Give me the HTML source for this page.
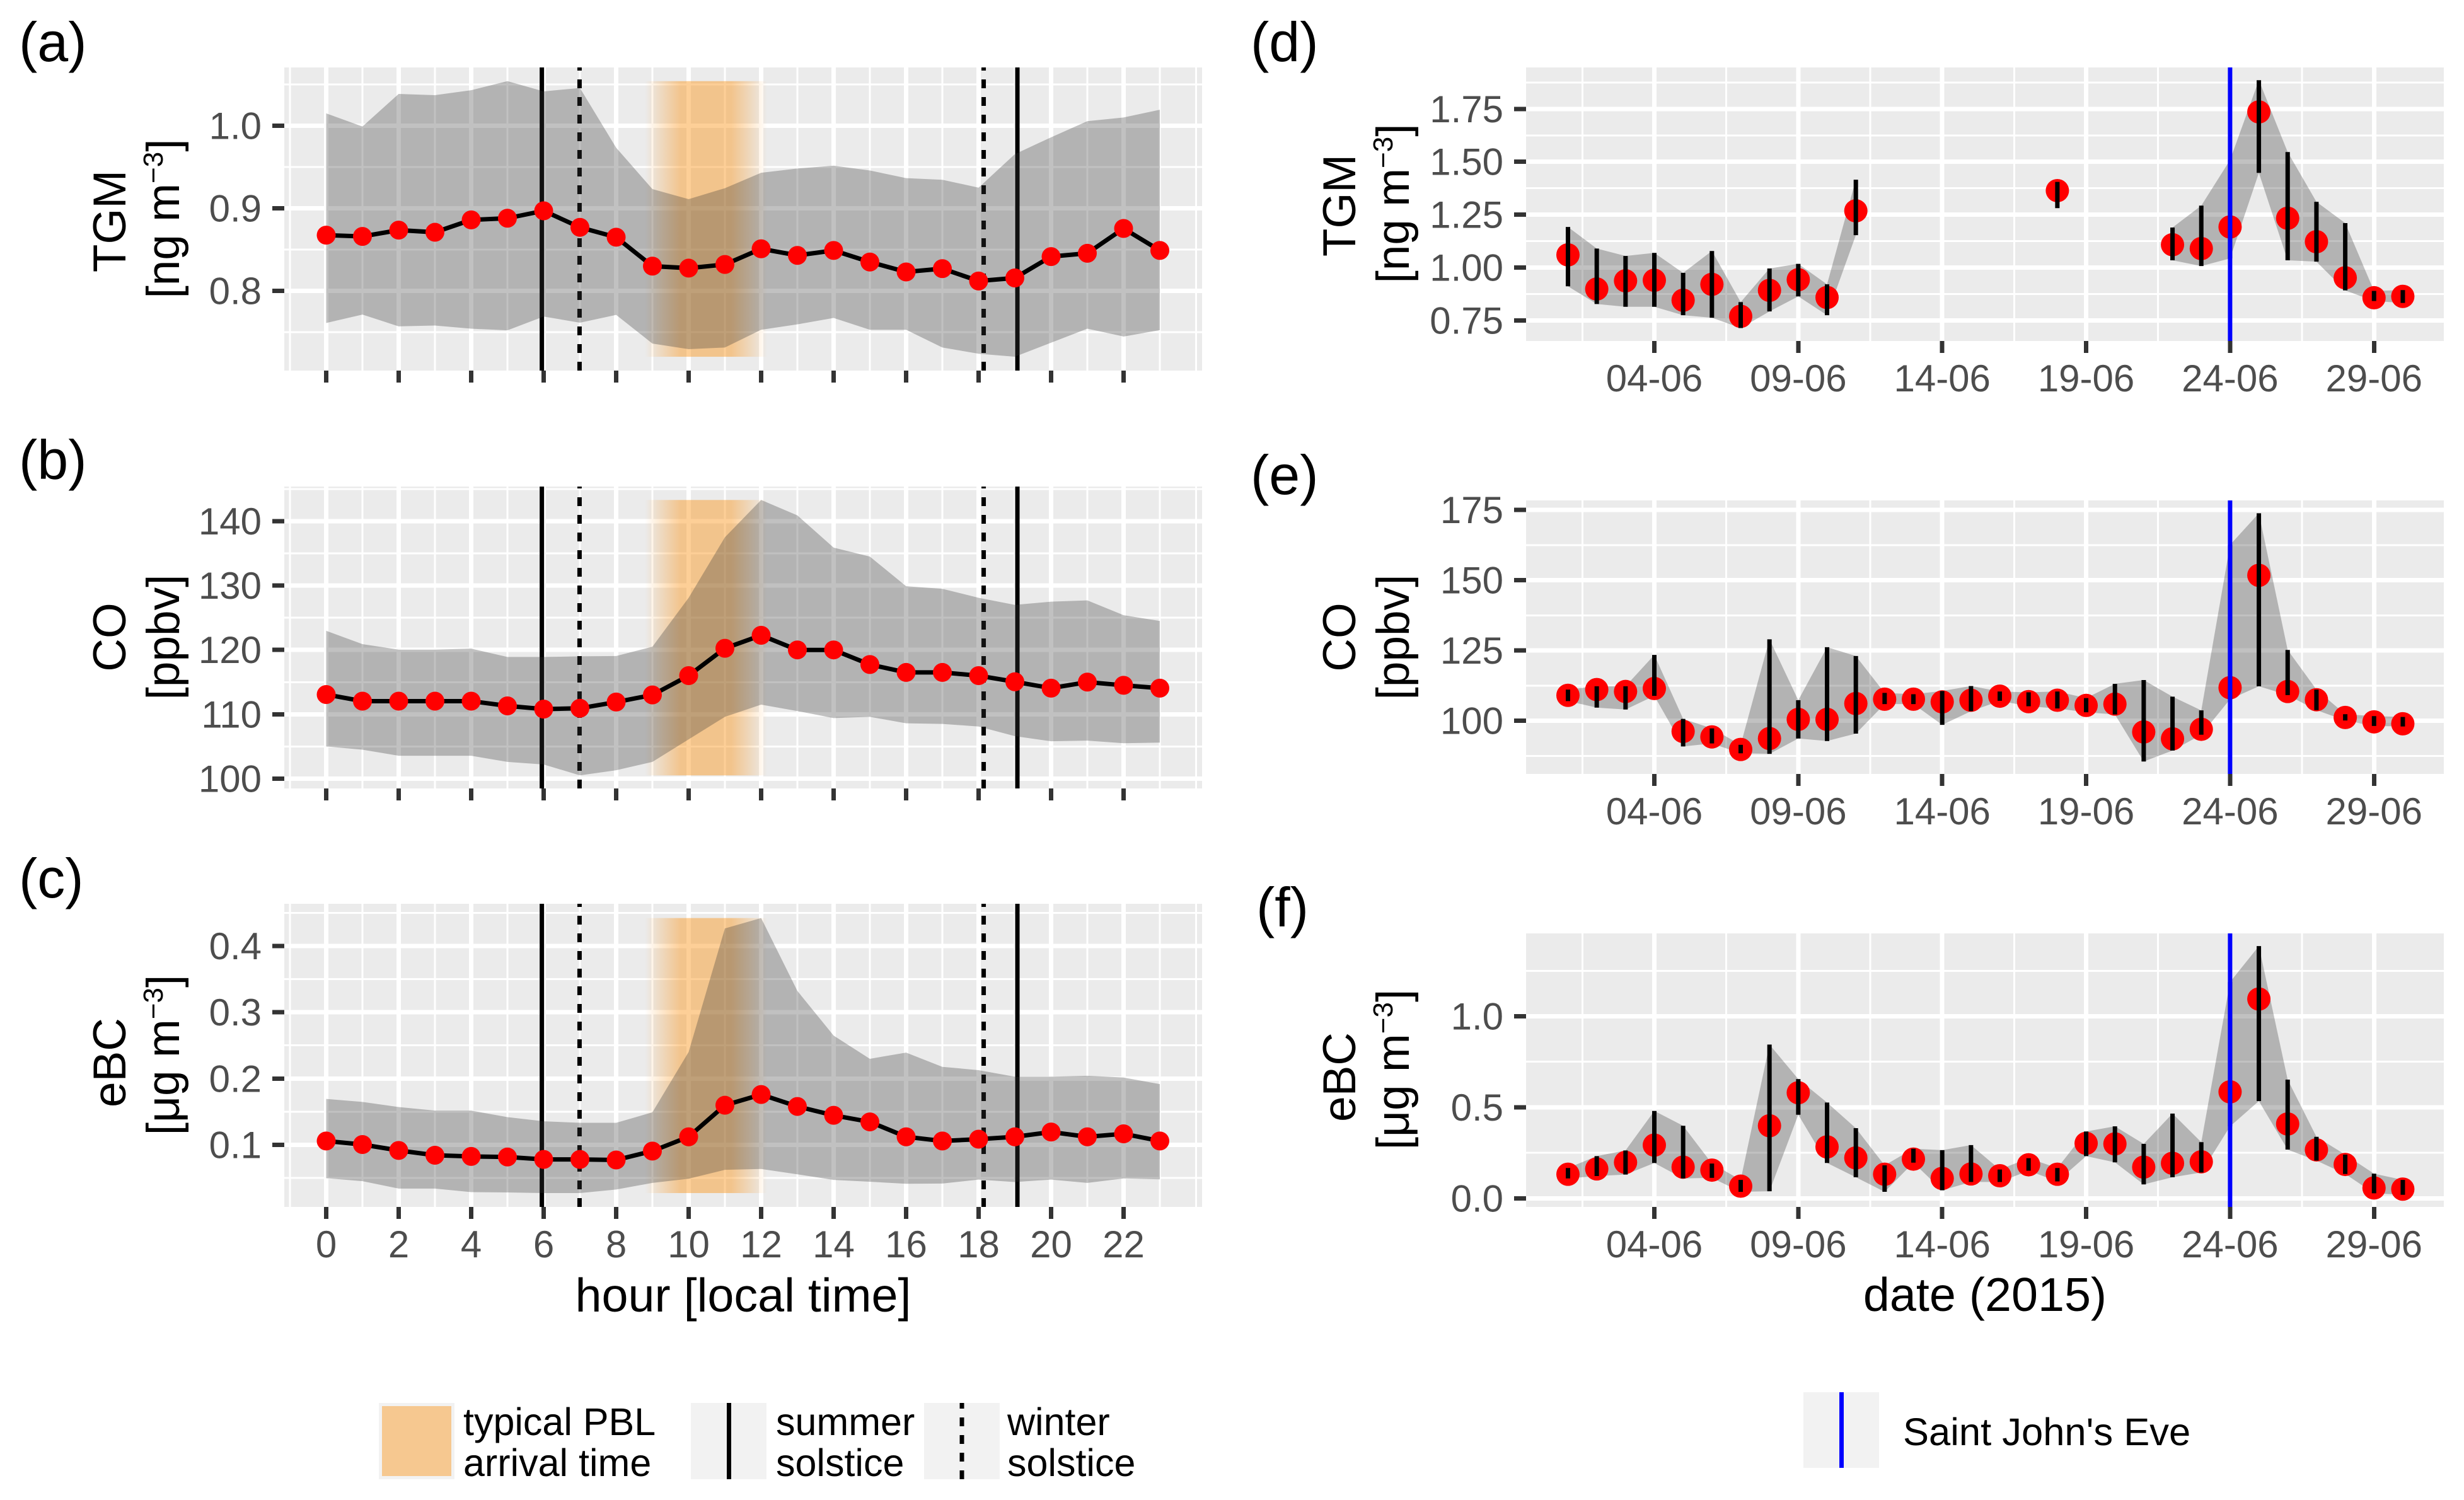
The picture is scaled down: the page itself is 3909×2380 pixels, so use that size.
<!DOCTYPE html>
<html lang="en">
<head>
<meta charset="utf-8">
<title>TGM, CO and eBC diurnal and daily variation</title>
<style>
html,body{margin:0;padding:0;background:#fff;}
svg{display:block;}
text{font-family:"Liberation Sans",Arial,sans-serif;}
.tag{font-size:88px;fill:#000;}
.ytitle{font-size:73px;fill:#000;text-anchor:middle;}
.xtitle{font-size:75.5px;fill:#000;text-anchor:middle;}
.legend{font-size:61px;fill:#000;}
</style>
</head>
<body>
<svg id="chart" xmlns="http://www.w3.org/2000/svg" width="3909" height="2380" viewBox="0 0 3909 2380">
  <defs>
    <linearGradient id="pbl-fade" x1="0" x2="1" y1="0" y2="0">
      <stop offset="0" stop-color="rgb(251,148,24)" stop-opacity="0"/>
      <stop offset="0.294" stop-color="rgb(251,148,24)" stop-opacity="0.45"/>
      <stop offset="0.706" stop-color="rgb(251,148,24)" stop-opacity="0.45"/>
      <stop offset="1" stop-color="rgb(251,148,24)" stop-opacity="0"/>
    </linearGradient>
  </defs>
  <rect x="0" y="0" width="3909" height="2380" fill="#fff"/>

  <g id="panel-a"></g>
  <g id="panel-b"></g>
  <g id="panel-c"></g>
  <g id="panel-d"></g>
  <g id="panel-e"></g>
  <g id="panel-f"></g>

  <text class="tag" x="30" y="97">(a)</text>
  <text class="tag" x="30" y="760">(b)</text>
  <text class="tag" x="30" y="1424">(c)</text>
  <text class="tag" x="1984" y="97">(d)</text>
  <text class="tag" x="1984" y="784">(e)</text>
  <text class="tag" x="1993" y="1470">(f)</text>

  <text class="ytitle" transform="translate(199,351) rotate(-90)">TGM</text>
  <text class="ytitle" transform="translate(284,347) rotate(-90)">[ng m<tspan dy="-26" font-size="44">−3</tspan><tspan dy="26">]</tspan></text>
  <text class="ytitle" transform="translate(199,1011) rotate(-90)">CO</text>
  <text class="ytitle" transform="translate(284,1011) rotate(-90)">[ppbv]</text>
  <text class="ytitle" transform="translate(199,1686) rotate(-90)">eBC</text>
  <text class="ytitle" transform="translate(284,1674) rotate(-90)">[μg m<tspan dy="-26" font-size="44">−3</tspan><tspan dy="26">]</tspan></text>
  <text class="ytitle" transform="translate(2150,326) rotate(-90)">TGM</text>
  <text class="ytitle" transform="translate(2235,323) rotate(-90)">[ng m<tspan dy="-26" font-size="44">−3</tspan><tspan dy="26">]</tspan></text>
  <text class="ytitle" transform="translate(2150,1011) rotate(-90)">CO</text>
  <text class="ytitle" transform="translate(2235,1011) rotate(-90)">[ppbv]</text>
  <text class="ytitle" transform="translate(2150,1709) rotate(-90)">eBC</text>
  <text class="ytitle" transform="translate(2235,1697) rotate(-90)">[μg m<tspan dy="-26" font-size="44">−3</tspan><tspan dy="26">]</tspan></text>

  <text class="xtitle" x="1179" y="2081">hour [local time]</text>
  <text class="xtitle" x="3149" y="2080">date (2015)</text>

  <g>
    <g>
      <rect x="601" y="2226" width="120" height="121" fill="#F2F2F2"/>
      <rect x="606" y="2231" width="110" height="111" fill="rgb(246,200,144)"/>
      <text class="legend" x="735" y="2277">typical PBL</text>
      <text class="legend" x="735" y="2342">arrival time</text>
    </g>
    <g>
      <rect x="1096" y="2226" width="120" height="121" fill="#F2F2F2"/>
      <line x1="1156.5" x2="1156.5" y1="2226" y2="2347" stroke="#000" stroke-width="7"/>
      <text class="legend" x="1231" y="2277">summer</text>
      <text class="legend" x="1231" y="2342">solstice</text>
    </g>
    <g>
      <rect x="1466" y="2226" width="120" height="121" fill="#F2F2F2"/>
      <line x1="1526" x2="1526" y1="2347" y2="2226" stroke="#000" stroke-width="7" stroke-dasharray="14 14"/>
      <text class="legend" x="1598" y="2277">winter</text>
      <text class="legend" x="1598" y="2342">solstice</text>
    </g>
  </g>
  <g>
    <rect x="2861" y="2209" width="120" height="120" fill="#F2F2F2"/>
    <line x1="2921.5" x2="2921.5" y1="2209" y2="2329" stroke="#0000FF" stroke-width="7"/>
    <text class="legend" x="3019" y="2293" font-size="61.5" style="font-size:61.5px">Saint John's Eve</text>
  </g>
</svg>

<script>
// ---------- diurnal data (panels a, b, c) ----------
const hours = [0,1,2,3,4,5,6,7,8,9,10,11,12,13,14,15,16,17,18,19,20,21,22,23];
const hourTickValues = [0,2,4,6,8,10,12,14,16,18,20,22];
const hourTickLabels = ['0','2','4','6','8','10','12','14','16','18','20','22'];
const hourMinorGrid = [-1,1,3,5,7,9,11,13,15,17,19,21,23,24];
const summerSolsticeHours = [5.95,19.07];
const winterSolsticeHours = [6.99,18.14];
const pblFadeStartHour = 8.79;
const pblFadeEndHour = 12.17;

const tgmHourMean = [0.8675,0.866,0.8736,0.871,0.886,0.888,0.897,0.877,0.865,0.83,0.8276,0.832,0.851,0.843,0.849,0.835,0.823,0.827,0.812,0.8157,0.8416,0.8456,0.8756,0.849];
const tgmHourUpper = [1.015,0.999,1.0385,1.037,1.043,1.054,1.0416,1.0457,0.9734,0.9233,0.9111,0.9244,0.9431,0.9482,0.9516,0.9458,0.9366,0.9346,0.925,0.9656,0.986,1.0055,1.01,1.0194];
const tgmHourLower = [0.7612,0.7714,0.7571,0.7581,0.7543,0.7523,0.769,0.7615,0.771,0.7363,0.7295,0.7315,0.753,0.7595,0.7673,0.753,0.753,0.7315,0.724,0.7203,0.7373,0.7543,0.7448,0.7526];
const tgmHourTicks = [0.8,0.9,1.0];
const tgmHourTickLabels = ['0.8','0.9','1.0'];
const tgmHourMinor = [0.75,0.85,0.95,1.05];

const coHourMean = [113.07,112.04,112.04,112.04,112.04,111.3,110.8,110.93,111.9,113,116,120.25,122.27,120,120,117.73,116.5,116.5,116,115.05,114.06,115,114.5,114.06];
const coHourUpper = [122.97,120.9,120.04,120.04,120.2,118.9,118.9,119,119.05,120.5,128.1,137.5,143.3,140.9,135.9,134.5,129.9,129.5,128.1,127,127.5,127.7,125.4,124.5];
const coHourLower = [105,104.5,103.55,103.55,103.55,102.6,102.2,100.5,101.3,102.6,106.1,109.6,111.5,110.5,109.4,109.6,108.6,108.5,108.1,106.6,105.8,105.9,105.5,105.6];
const coHourTicks = [100,110,120,130,140];
const coHourTickLabels = ['100','110','120','130','140'];
const coHourMinor = [105,115,125,135,145];

const ebcHourMean = [0.1058,0.1004,0.0915,0.0843,0.0825,0.0816,0.078,0.078,0.0771,0.0906,0.1121,0.1597,0.1759,0.1579,0.1445,0.1346,0.1121,0.1058,0.1085,0.1121,0.1193,0.1121,0.1166,0.1058];
const ebcHourUpper = [0.1692,0.1647,0.157,0.1517,0.1517,0.1418,0.1355,0.1332,0.1332,0.149,0.2401,0.4265,0.4422,0.3322,0.2648,0.2298,0.2392,0.2177,0.2127,0.2028,0.2028,0.2042,0.2015,0.1916];
const ebcHourLower = [0.0497,0.0452,0.034,0.034,0.0286,0.0282,0.0272,0.0272,0.0326,0.0425,0.0488,0.0623,0.0636,0.0555,0.047,0.0443,0.0412,0.0416,0.0475,0.0439,0.0475,0.0425,0.0493,0.0479];
const ebcHourTicks = [0.1,0.2,0.3,0.4];
const ebcHourTickLabels = ['0.1','0.2','0.3','0.4'];
const ebcHourMinor = [0.05,0.15,0.25,0.35,0.45];

// ---------- daily data (panels d, e, f) ----------
const days = [1,2,3,4,5,6,7,8,9,10,11,12,13,14,15,16,17,18,19,20,21,22,23,24,25,26,27,28,29,30];
const dateTickDays = [4,9,14,19,24,29];
const dateTickLabels = ['04-06','09-06','14-06','19-06','24-06','29-06'];
const dateMinorGrid = [1.5,6.5,11.5,16.5,21.5,26.5];
const saintJohnsEveDay = [24];

const tgmDayMean = [1.06,0.8986,0.9373,0.9399,0.8456,0.9205,0.7694,0.8921,0.9425,0.8585,1.268,null,null,null,null,null,null,1.3637,null,null,null,1.1079,1.0898,1.1919,1.7358,1.2332,1.1221,0.9515,0.8572,0.8637];
const tgmDayUpper = [1.1919,1.0898,1.0549,1.0691,0.9748,1.0782,0.8366,0.9955,1.0174,0.9205,1.4154,null,null,null,null,null,null,1.405,null,null,null,1.1893,1.2926,1.5084,1.8857,1.5459,1.3107,1.2099,0.8895,0.8934];
const tgmDayLower = [0.9115,0.8275,0.8146,0.8146,0.7745,0.7629,0.7138,0.7926,0.8637,0.7745,1.1531,null,null,null,null,null,null,1.281,null,null,null,1.0342,1.0071,1.0433,1.4477,1.0342,1.0278,0.8921,0.8418,0.8327];
const tgmDayTicks = [0.75,1.0,1.25,1.5,1.75];
const tgmDayTickLabels = ['0.75','1.00','1.25','1.50','1.75'];
const tgmDayMinor = [0.875,1.125,1.375,1.625,1.875];

const coDayMean = [109.05,111.09,110.41,111.48,96.2,94.26,89.79,93.68,100.49,100.49,106.13,107.68,107.68,106.71,107.3,108.75,106.81,107.3,105.45,105.93,96.01,93.58,96.98,111.77,151.75,110.41,107.49,101.17,99.61,98.93];
const coDayUpper = [111.09,112.26,112.26,123.44,100.68,97.28,91.44,128.99,107.3,126.17,123.05,109.92,109.44,110.6,112.35,110.41,110.12,110.41,108.07,113.13,114.49,108.56,103.7,162.6,173.83,125.19,111.09,102.33,101.65,101.36];
const coDayLower = [107,104.67,103.99,108.85,90.86,91.93,88.42,88.23,93.68,92.8,95.43,105.93,105.93,98.54,103.4,107.1,105.16,104.38,103.02,102.24,85.51,89.4,95.04,107.68,112.26,109.14,103.79,100.1,98.15,97.96];
const coDayTicks = [100,125,150,175];
const coDayTickLabels = ['100','125','150','175'];
const coDayMinor = [87.5,112.5,137.5,162.5];

const ebcDayMean = [0.1324,0.1618,0.1977,0.2925,0.1716,0.1552,0.067,0.3987,0.58,0.2827,0.2222,0.1324,0.2157,0.1095,0.134,0.1242,0.1846,0.1324,0.3023,0.299,0.1716,0.1928,0.201,0.585,1.0948,0.4085,0.2663,0.1863,0.0572,0.0507];
const ebcDayUpper = [0.1667,0.232,0.2631,0.4804,0.3987,0.1912,0.1013,0.8448,0.6552,0.5261,0.3856,0.1814,0.2729,0.2647,0.2925,0.1585,0.2206,0.1667,0.3676,0.3954,0.299,0.4657,0.3088,1.188,1.3856,0.652,0.3382,0.2402,0.1356,0.1013];
const ebcDayLower = [0.1095,0.1225,0.1307,0.1944,0.1095,0.1127,0.0359,0.0392,0.4592,0.1944,0.116,0.0359,0.1961,0.0441,0.0899,0.0899,0.152,0.0931,0.232,0.1977,0.0768,0.116,0.1422,0.3954,0.5343,0.268,0.2075,0.134,0.0278,0.0196];
const ebcDayTicks = [0,0.5,1.0];
const ebcDayTickLabels = ['0.0','0.5','1.0'];
const ebcDayMinor = [0.25,0.75,1.25];

// ---------- axis functions ----------
const xHour = h => 517.5 + 57.5 * h;
const xDay = d => 2624.5 + 45.67 * (d - 4);
const yTgmHour = v => 199.5 + (1 - v) * 1310.5;
const yCoHour = v => 827 + (140 - v) * 10.21;
const yEbcHour = v => 1501 + (0.4 - v) * 1051.5;
const yTgmDay = v => 424.5 + (1 - v) * 335.6;
const yCoDay = v => 1143.6 + (100 - v) * 4.459;
const yEbcDay = v => 1901.4 - v * 288.9;

const SVGNS = 'http://www.w3.org/2000/svg';
function make(tag, attrs, parent, text) {
  const el = document.createElementNS(SVGNS, tag);
  for (const k in attrs) el.setAttribute(k, attrs[k]);
  if (text !== undefined) el.textContent = text;
  parent.appendChild(el);
  return el;
}

const RIBBON_FILL = 'rgb(55,55,55)';
const RIBBON_ALPHA = 0.31;

function drawFrame(g, box, xf, yf, xMajor, xMinor, yMajor, yMinor) {
  const bg = make('rect', {x: box.l, y: box.t, width: box.r - box.l, height: box.b - box.t, fill: '#EBEBEB'}, g);
  
  
  yMinor.forEach(v => {
    const el = make('line', {x1: box.l, x2: box.r, y1: yf(v), y2: yf(v), stroke: '#fff', 'stroke-width': 3, 'shape-rendering': 'crispEdges'}, g);
    
    
  });
  xMinor.forEach(v => {
    const el = make('line', {x1: xf(v), x2: xf(v), y1: box.t, y2: box.b, stroke: '#fff', 'stroke-width': 3, 'shape-rendering': 'crispEdges'}, g);
    
    
  });
  yMajor.forEach(v => {
    const el = make('line', {x1: box.l, x2: box.r, y1: yf(v), y2: yf(v), stroke: '#fff', 'stroke-width': 7, 'shape-rendering': 'crispEdges'}, g);
    
    
  });
  xMajor.forEach(v => {
    const el = make('line', {x1: xf(v), x2: xf(v), y1: box.t, y2: box.b, stroke: '#fff', 'stroke-width': 7, 'shape-rendering': 'crispEdges'}, g);
    
    
  });
}

function drawAxes(g, box, xf, yf, xTicks, xLabels, yTicks, yLabels) {
  yTicks.forEach((v, i) => {
    const tick = make('line', {x1: box.l - 19, x2: box.l, y1: yf(v), y2: yf(v), stroke: '#333333', 'stroke-width': 7, 'shape-rendering': 'crispEdges'}, g);
    
    
    const label = make('text', {x: box.l - 36, y: yf(v) + 21, 'font-size': 60, fill: '#4D4D4D', 'text-anchor': 'end'}, g, yLabels[i]);
    
    
  });
  xTicks.forEach((v, i) => {
    const tick = make('line', {x1: xf(v), x2: xf(v), y1: box.b, y2: box.b + 19, stroke: '#333333', 'stroke-width': 7, 'shape-rendering': 'crispEdges'}, g);
    
    
    if (xLabels) {
      const label = make('text', {x: xf(v), y: box.b + 80, 'font-size': 60, fill: '#4D4D4D', 'text-anchor': 'middle'}, g, xLabels[i]);
      
      
    }
  });
}

function ribbonSegments(xs, upper, lower) {
  const segments = [];
  let cur = [];
  xs.forEach((x, i) => {
    if (upper[i] === null || lower[i] === null) {
      if (cur.length) segments.push(cur);
      cur = [];
    } else {
      cur.push(i);
    }
  });
  if (cur.length) segments.push(cur);
  return segments;
}

function drawRibbon(g, xs, upper, lower, xf, yf) {
  ribbonSegments(xs, upper, lower).forEach(seg => {
    if (seg.length < 2) return;
    const top = seg.map(i => xf(xs[i]) + ',' + yf(upper[i]));
    const bottom = seg.slice().reverse().map(i => xf(xs[i]) + ',' + yf(lower[i]));
    const el = make('polygon', {points: top.concat(bottom).join(' '), fill: RIBBON_FILL, 'fill-opacity': RIBBON_ALPHA}, g);
    
    
  });
}

function drawHourPanel(id, box, yf, mean, upper, lower, yTicks, yLabels, yMinor, showXLabels) {
  const g = document.getElementById(id);
  drawFrame(g, box, xHour, yf, hourTickValues, hourMinorGrid, yTicks, yMinor);

  const top = yf(Math.max.apply(null, upper));
  const bottom = yf(Math.min.apply(null, lower));
  const pbl = make('rect', {x: xHour(pblFadeStartHour), y: top, width: xHour(pblFadeEndHour) - xHour(pblFadeStartHour), height: bottom - top, fill: 'url(#pbl-fade)'}, g);
  
  

  summerSolsticeHours.forEach(h => {
    const el = make('line', {x1: xHour(h), x2: xHour(h), y1: box.b, y2: box.t, stroke: '#000', 'stroke-width': 7}, g);
    
    
  });
  winterSolsticeHours.forEach(h => {
    const el = make('line', {x1: xHour(h), x2: xHour(h), y1: box.b, y2: box.t, stroke: '#000', 'stroke-width': 7, 'stroke-dasharray': '14 14'}, g);
    
    
  });

  drawRibbon(g, hours, upper, lower, xHour, yf);

  const meanLine = make('polyline', {points: hours.map((h, i) => xHour(h) + ',' + yf(mean[i])).join(' '), fill: 'none', stroke: '#000', 'stroke-width': 7}, g);
  
  

  hours.forEach((h, i) => {
    const pt = make('circle', {cx: xHour(h), cy: yf(mean[i]), r: 15, fill: '#FF0000'}, g);
    
    
  });

  drawAxes(g, box, xHour, yf, hourTickValues, showXLabels ? hourTickLabels : null, yTicks, yLabels);
}

function drawDayPanel(id, box, yf, mean, upper, lower, yTicks, yLabels, yMinor) {
  const g = document.getElementById(id);
  drawFrame(g, box, xDay, yf, dateTickDays, dateMinorGrid, yTicks, yMinor);
  drawRibbon(g, days, upper, lower, xDay, yf);

  days.forEach((d, i) => {
    if (mean[i] === null) return;
    const pt = make('circle', {cx: xDay(d), cy: yf(mean[i]), r: 18.5, fill: '#FF0000'}, g);
    
    
  });
  days.forEach((d, i) => {
    if (upper[i] === null) return;
    const bar = make('line', {x1: xDay(d), x2: xDay(d), y1: yf(upper[i]), y2: yf(lower[i]), stroke: '#000', 'stroke-width': 7}, g);
    
    
  });
  saintJohnsEveDay.forEach(d => {
    const eve = make('line', {x1: xDay(d), x2: xDay(d), y1: box.t, y2: box.b, stroke: '#0000FF', 'stroke-width': 7}, g);
    
    
  });

  drawAxes(g, box, xDay, yf, dateTickDays, dateTickLabels, yTicks, yLabels);
}

drawHourPanel('panel-a', {l: 451, r: 1907, t: 107, b: 588}, yTgmHour, tgmHourMean, tgmHourUpper, tgmHourLower, tgmHourTicks, tgmHourTickLabels, tgmHourMinor, false);
drawHourPanel('panel-b', {l: 451, r: 1907, t: 772, b: 1251}, yCoHour, coHourMean, coHourUpper, coHourLower, coHourTicks, coHourTickLabels, coHourMinor, false);
drawHourPanel('panel-c', {l: 451, r: 1907, t: 1434, b: 1915}, yEbcHour, ebcHourMean, ebcHourUpper, ebcHourLower, ebcHourTicks, ebcHourTickLabels, ebcHourMinor, true);
drawDayPanel('panel-d', {l: 2421, r: 3877, t: 107, b: 541}, yTgmDay, tgmDayMean, tgmDayUpper, tgmDayLower, tgmDayTicks, tgmDayTickLabels, tgmDayMinor);
drawDayPanel('panel-e', {l: 2421, r: 3877, t: 794, b: 1228}, yCoDay, coDayMean, coDayUpper, coDayLower, coDayTicks, coDayTickLabels, coDayMinor);
drawDayPanel('panel-f', {l: 2421, r: 3877, t: 1481, b: 1915}, yEbcDay, ebcDayMean, ebcDayUpper, ebcDayLower, ebcDayTicks, ebcDayTickLabels, ebcDayMinor);
</script>
</body>
</html>
